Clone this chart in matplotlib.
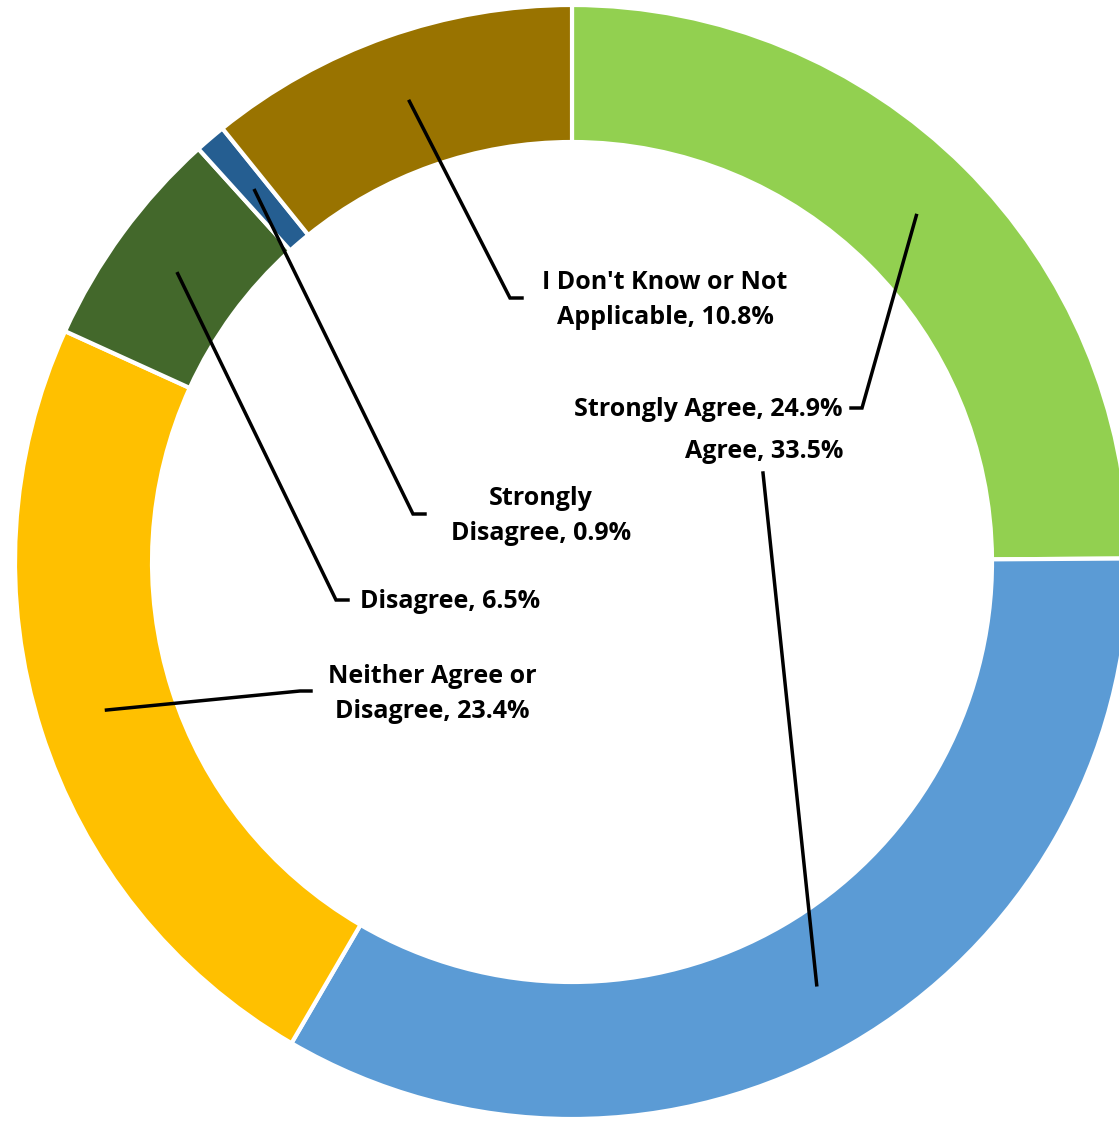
import numpy as np
import matplotlib
matplotlib.use("Agg")
import matplotlib.pyplot as plt

categories = ["Strongly Agree", "Agree", "Neither Agree or\nDisagree", "Disagree",
              "Strongly\nDisagree", "I Don't Know or Not\nApplicable"]
values = [24.9, 33.5, 23.4, 6.5, 0.9, 10.8]
colors = ["#92D050", "#5B9BD5", "#FFC000", "#43682B", "#255E91", "#997300"]

W, H = 1119, 1121
fig = plt.figure(figsize=(W / 100, H / 100), dpi=100)
ax = fig.add_axes([0, 0, 1, 1])

cx, cy = 572, H - 562
R = 557
width = 137

wedges, _ = ax.pie(values, colors=colors, startangle=90, counterclock=False,
                   radius=R, center=(cx, cy), frame=True,
                   wedgeprops=dict(width=width, edgecolor="white", linewidth=3))
ax.set_xlim(0, W)
ax.set_ylim(0, H)
ax.set_aspect("equal")
ax.axis("off")

# label layout: (text x, text y, ha, elbow x, elbow y, horizontal end x) in pixel coords (y from top)
layout = [
    (843, 410, "right", 862, 408, 851),
    (843, 452, "right", 763, 473, None),
    (432, 694, "center", 300, 691, 311),
    (360, 601, "left", 336, 600, 348),
    (541, 516, "center", 413, 514, 425),
    (665, 300, "center", 510, 298, 522),
]

font = dict(family=["Open Sans", "DejaVu Sans"], fontsize=18, fontweight="bold", color="black")
for w, cat, v, (tx, ty, ha, ex, ey, hx) in zip(wedges, categories, values, layout):
    mid = np.deg2rad((w.theta1 + w.theta2) / 2)
    r = R - width / 2
    ax_x = cx + r * np.cos(mid)
    ax_y = cy + r * np.sin(mid)
    xs = [ax_x, ex]
    ys = [ax_y, H - ey]
    if hx is not None:
        xs.append(hx)
        ys.append(H - ey)
    ax.plot(xs, ys, color="black", lw=2.5, solid_joinstyle="miter", zorder=5)
    ax.text(tx, H - ty, f"{cat}, {v}%", ha=ha, va="center", multialignment="center",
            linespacing=1.55, zorder=6, **font)

fig.savefig("out.png", dpi=100, facecolor="white")
